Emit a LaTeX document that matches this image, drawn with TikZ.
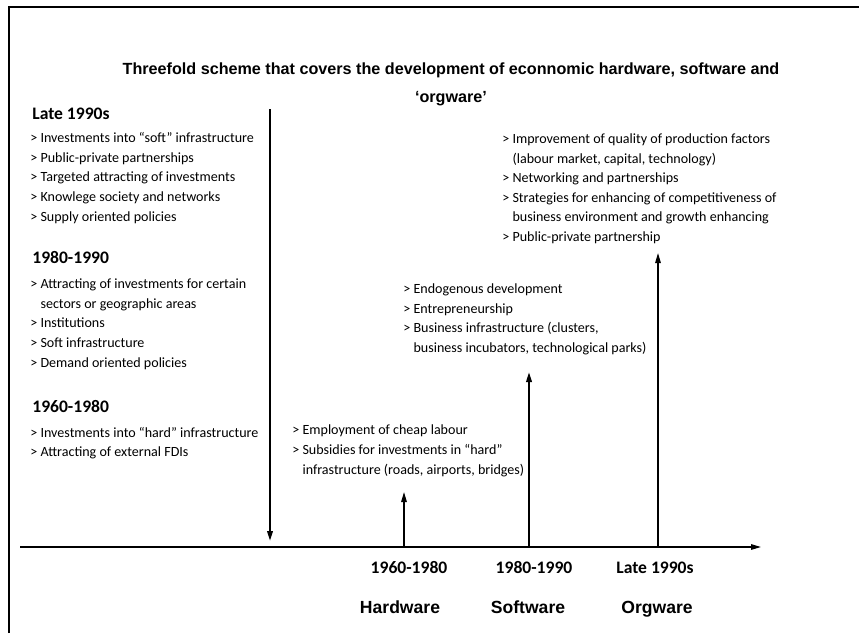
\documentclass[tikz,border=0pt]{standalone}
\usepackage{fontspec}
\setmainfont{Carlito}
\newfontfamily\arialfont{Liberation Sans}
\usetikzlibrary{arrows.meta}

\tikzset{
    item/.style={anchor=base west, align=left, inner sep=0pt, font=\fontsize{8}{11.1}\selectfont},
    era/.style={anchor=base west, inner sep=0pt, font=\bfseries\fontsize{10}{12}\selectfont},
    yearlabel/.style={anchor=base, inner sep=0pt, font=\bfseries\fontsize{10}{12}\selectfont},
    warelabel/.style={anchor=base, inner sep=0pt, font=\arialfont\bfseries\fontsize{10}{12}\selectfont},
    thick arrow/.style={->, line width=1.1pt},
    thin arrow/.style={->, line width=0.8pt}
}

\begin{document}
\begin{tikzpicture}[>={Triangle[length=2mm,width=1.1mm]}]
    \useasboundingbox (0,0) rectangle (17.18,12.66);
    % frame
    \draw[line width=1pt] (0.18,0) -- (0.18,12.52) -- (17.18,12.52);
    % multi-line nodes sit on the baseline of their last line
    \node[anchor=base, align=center, inner sep=0pt,
          font=\arialfont\bfseries\fontsize{9.2}{15.6}\selectfont] (title) at (9.02,10.62)
        {Threefold scheme that covers the development of econnomic hardware, software and\\ ‘orgware’};

    % left column: eras
    \node[era] (late) at (0.64,10.28) {Late 1990s};
    \node[item] (lateitems) at (0.60,8.24) {> Investments into “soft” infrastructure\\
        > Public-private partnerships\\
        > Targeted attracting of investments\\
        > Knowlege society and networks\\
        > Supply oriented policies};
    \node[era] (mid) at (0.64,7.40) {1980-1990};
    \node[item] (miditems) at (0.60,5.32) {> Attracting of investments for certain\\
        \phantom{> }sectors or geographic areas\\
        > Institutions\\
        > Soft infrastructure\\
        > Demand oriented policies};
    \node[era] (early) at (0.64,4.42) {1960-1980};
    \node[item] (earlyitems) at (0.60,3.53) {> Investments into “hard” infrastructure\\
        > Attracting of external FDIs};

    % right side: the three wares
    \node[item] (hwitems) at (5.84,3.18) {> Employment of cheap labour\\
        > Subsidies for investments in “hard”\\
        \phantom{> }infrastructure (roads, airports, bridges)};
    \node[item] (switems) at (8.06,5.61) {> Endogenous development\\
        > Entrepreneurship\\
        > Business infrastructure (clusters,\\
        \phantom{> }business incubators, technological parks)};
    \node[item] (owitems) at (10.04,7.83) {> Improvement of quality of production factors\\
        \phantom{> }(labour market, capital, technology)\\
        > Networking and partnerships\\
        > Strategies for enhancing of competitiveness of\\
        \phantom{> }business environment and growth enhancing\\
        > Public-private partnership};

    % axis
    \coordinate (axisstart) at (0.40,1.72);
    \coordinate (axisend) at (15.22,1.72);
    \draw[thin arrow] (axisstart) -- (axisend);

    \coordinate (downtop) at (5.40,10.48);
    \coordinate (downtip) at (5.40,1.84);
    \draw[thick arrow] (downtop) -- (downtip);

    \coordinate (hwfoot) at (8.08,1.72);
    \coordinate (hwtip) at (8.08,2.82);
    \draw[thin arrow] (hwfoot) -- (hwtip);
    \coordinate (swfoot) at (10.58,1.72);
    \coordinate (swtip) at (10.58,5.22);
    \draw[thick arrow] (swfoot) -- (swtip);
    \coordinate (owfoot) at (13.16,1.72);
    \coordinate (owtip) at (13.16,7.60);
    \draw[thin arrow] (owfoot) -- (owtip);

    % labels under the axis
    \node[yearlabel] (hwyear) at (8.18,1.20) {1960-1980};
    \node[yearlabel] (swyear) at (10.68,1.20) {1980-1990};
    \node[yearlabel] (owyear) at (13.10,1.20) {Late 1990s};
    \node[warelabel] (hw) at (8.00,0.40) {Hardware};
    \node[warelabel] (sw) at (10.56,0.40) {Software};
    \node[warelabel] (ow) at (13.14,0.40) {Orgware};
\end{tikzpicture}
\end{document}
